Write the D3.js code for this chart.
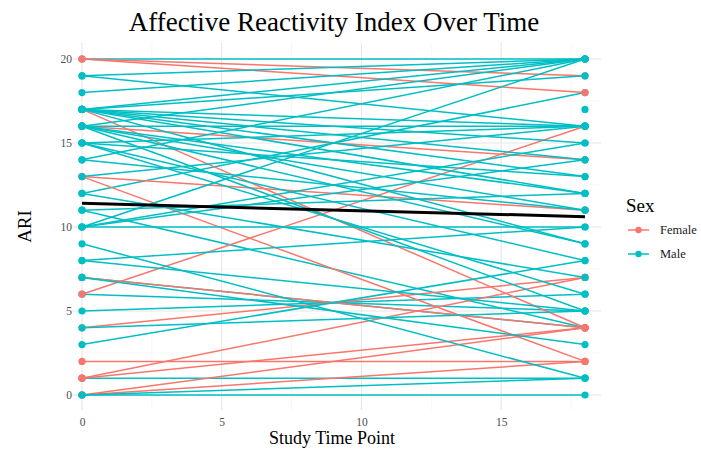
<!DOCTYPE html>
<html>
<head>
<meta charset="utf-8">
<script src="https://cdnjs.cloudflare.com/ajax/libs/d3/7.8.5/d3.min.js"></script>
<style>
  body { margin: 0; background: #fff; }
  svg text { font-family: "Liberation Serif", "DejaVu Serif", serif; }
</style>
</head>
<body>
<svg id="ari-chart" width="701" height="453"></svg>
<script>
// Values, one entry per subject (drawing order matters for overlapping dots)
var sex = [
  "Male", "Male", "Male", "Male", "Male", "Male", "Male",
  "Female", "Female", "Female", "Female", "Female", "Female", "Female",
  "Female", "Female", "Female", "Female", "Female", "Female", "Female",
  "Male", "Male", "Male", "Male", "Male", "Male", "Male", "Male", "Male", "Male",
  "Male", "Male", "Male", "Male", "Male", "Male", "Male", "Male", "Male", "Male",
  "Male", "Male", "Male", "Male", "Male", "Male", "Male", "Male", "Male", "Male",
  "Male", "Male", "Male", "Male", "Male", "Male", "Male", "Male", "Male"
];
var ariStart = [
  20, 6, 1, 12, 11, 7, 5,
  20, 20, 17, 16, 13, 13, 7, 6, 4, 2, 1, 1, 0, 0,
  19, 19, 18, 17, 17, 17, 17, 17, 17, 17,
  17, 16, 16, 16, 16, 16, 16, 15, 15, 15,
  15, 14, 14, 10, 12, 11, 10, 10, 10, 9,
  8, 8, 7, 3, 0, 0, 4, 13, null
];
var ariEnd = [
  20, 5, 1, 18, 4, 4, 6,
  19, 18, 4, 14, 11, 2, 4, 16, 7, 2, 7, 4, 4, 2,
  20, 16, 20, 20, 16, 19, 15, 12, 14, 13,
  9, 16, 12, 5, 9, 11, 20, 16, 8, 13,
  6, 20, 11, 15, 7, 12, 20, 10, 14, 1,
  10, 5, 3, 8, 0, 1, 5, 16, 17
];
var timePoints = [0, 18];
var xTicks = [0, 5, 10, 15];
var yTicks = [0, 5, 10, 15, 20];
var xMinor = [2.5, 7.5, 12.5, 17.5];
var yMinor = [2.5, 7.5, 12.5, 17.5];
var sexLevels = ["Female", "Male"];

var colors = {Female: "#F8766D", Male: "#00BFC4"};
// panel edges (grid extent) in pixels
var panel = {left: 72, right: 601, top: 43, bottom: 410};

var svg = d3.select("#ari-chart");

var x = d3.scaleLinear()
          .domain([0, 18])
          .range([82, 585]);
var y = d3.scaleLinear()
          .domain([0, 20])
          .range([395, 59]);

var subjects = sex.map(function(s, i) {
  var pts = [];
  if (ariStart[i] !== null) pts.push({t: timePoints[0], v: ariStart[i]});
  if (ariEnd[i] !== null) pts.push({t: timePoints[1], v: ariEnd[i]});
  return {sex: s, pts: pts};
});

// grid (theme_minimal look)
var grid = svg.append("g").attr("class", "grid");
function vLines(vals, color, w) {
  grid.selectAll(null).data(vals).enter().append("line")
      .attr("x1", function(d) { return x(d); }).attr("x2", function(d) { return x(d); })
      .attr("y1", panel.bottom).attr("y2", panel.top)
      .attr("stroke", color).attr("stroke-width", w);
}
function hLines(vals, color, w) {
  grid.selectAll(null).data(vals).enter().append("line")
      .attr("y1", function(d) { return y(d); }).attr("y2", function(d) { return y(d); })
      .attr("x1", panel.left).attr("x2", panel.right)
      .attr("stroke", color).attr("stroke-width", w);
}
vLines(xMinor, "#f1f1f1", 0.6);
hLines(yMinor, "#f1f1f1", 0.6);
vLines(xTicks, "#e6e6e6", 1.1);
hLines(yTicks, "#e6e6e6", 1.1);

// axes, no domain line or ticks
var xAxis = svg.append("g")
   .attr("transform", "translate(0," + panel.bottom + ")")
   .call(d3.axisBottom(x).tickValues(xTicks).tickSize(0).tickPadding(8));
var yAxis = svg.append("g")
   .attr("transform", "translate(" + panel.left + ",0)")
   .call(d3.axisLeft(y).tickValues(yTicks).tickSize(0).tickPadding(0));
[xAxis, yAxis].forEach(function(a) {
  a.select(".domain").remove();
  a.selectAll("text")
   .style("font-family", "Liberation Serif, serif")
   .style("font-size", "11.5px")
   .attr("fill", "#4d4d4d");
});

// subject lines
var line = d3.line()
             .x(function(d) { return x(d.t); })
             .y(function(d) { return y(d.v); });
svg.append("g").selectAll("path")
   .data(subjects.filter(function(d) { return d.pts.length > 1; }))
   .enter().append("path")
   .attr("d", function(d) { return line(d.pts); })
   .attr("fill", "none")
   .attr("stroke", function(d) { return colors[d.sex]; })
   .attr("stroke-width", 1.5);

// linear fit over all observations
var all = [];
subjects.forEach(function(s) { s.pts.forEach(function(p) { all.push(p); }); });
var mt = d3.mean(all, function(d) { return d.t; });
var mv = d3.mean(all, function(d) { return d.v; });
var slope = d3.sum(all, function(d) { return (d.t - mt) * (d.v - mv); }) /
            d3.sum(all, function(d) { return (d.t - mt) * (d.t - mt); });
var fit = timePoints.map(function(t) { return {t: t, v: mv + slope * (t - mt)}; });
svg.append("path")
   .attr("d", line(fit))
   .attr("fill", "none")
   .attr("stroke", "#000")
   .attr("stroke-width", 3);

// points
var pointData = [];
subjects.forEach(function(s) {
  s.pts.forEach(function(p) { pointData.push({sex: s.sex, t: p.t, v: p.v}); });
});
svg.append("g").selectAll("circle")
   .data(pointData)
   .enter().append("circle")
   .attr("cx", function(d) { return x(d.t); })
   .attr("cy", function(d) { return y(d.v); })
   .attr("r", 3.6)
   .attr("fill", function(d) { return colors[d.sex]; });

// titles
svg.append("text")
   .attr("x", 334).attr("y", 31)
   .attr("text-anchor", "middle")
   .style("font-size", "27px")
   .attr("fill", "#000")
   .text("Affective Reactivity Index Over Time");
svg.append("text")
   .attr("x", 332).attr("y", 444)
   .attr("text-anchor", "middle")
   .style("font-size", "18px")
   .text("Study Time Point");
svg.append("text")
   .attr("transform", "translate(31," + ((panel.top + panel.bottom) / 2) + ") rotate(-90)")
   .attr("text-anchor", "middle")
   .style("font-size", "19px")
   .text("ARI");

// legend
var legend = svg.append("g").attr("transform", "translate(626,0)");
legend.append("text")
      .attr("x", 0).attr("y", 212)
      .style("font-size", "19px")
      .text("Sex");
var items = legend.selectAll("g.item")
                  .data(sexLevels)
                  .enter().append("g")
                  .attr("class", "item")
                  .attr("transform", function(d, i) { return "translate(0," + (230 + i * 24) + ")"; });
items.append("line")
     .attr("x1", 2).attr("x2", 23)
     .attr("stroke", function(d) { return colors[d]; })
     .attr("stroke-width", 1.5);
items.append("circle")
     .attr("cx", 12.5).attr("r", 3.2)
     .attr("fill", function(d) { return colors[d]; });
items.append("text")
     .attr("x", 34).attr("dy", "0.35em")
     .style("font-size", "12.5px")
     .attr("fill", "#1a1a1a")
     .text(function(d) { return d; });
</script>
</body>
</html>
